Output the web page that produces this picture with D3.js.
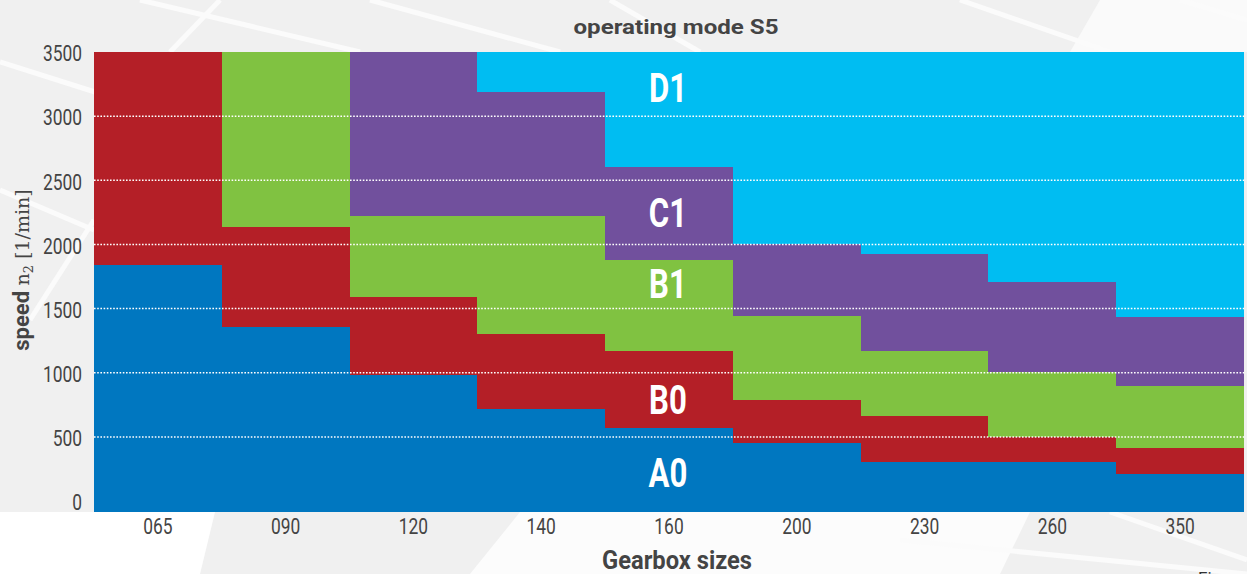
<!DOCTYPE html>
<html>
<head>
<meta charset="utf-8">
<script src="https://cdn.jsdelivr.net/npm/d3@7"></script>
<style>
  html, body { margin: 0; padding: 0; background: #fff; }
  svg { display: block; }
</style>
</head>
<body>
<svg id="chart" width="1247" height="574"></svg>
<script>
// gearbox sizes
var sizes = ["065", "090", "120", "140", "160", "200", "230", "260", "350"]

// upper limit of each zone per gearbox size, speed n2 in 1/min
var topA0 = [1840, 1357, 983, 718, 572, 455, 307, 307, 211]
var topB0 = [3500, 2136, 1591, 1302, 1170, 788, 663, 497, 414]
var topB1 = [3500, 3500, 2222, 2222, 1879, 1443, 1170, 1006, 897]
var topC1 = [3500, 3500, 3500, 3188, 2604, 2001, 1926, 1708, 1435]
var topD1 = [3500, 3500, 3500, 3500, 3500, 3500, 3500, 3500, 3500]

var zoneNames = ["A0", "B0", "B1", "C1", "D1"]
var zoneColors = ["#0077c0", "#b41f27", "#80c241", "#71509d", "#00bdf2"]
// where the zone names sit (speed value, in column "160")
var zoneLabelSpeed = [220, 796, 1700, 2253, 3223]

var yTicks = [0, 500, 1000, 1500, 2000, 2500, 3000, 3500]
var gridTicks = [500, 1000, 1500, 2000, 2500, 3000]

var svg = d3.select("#chart")
var W = 1247, H = 574
var plotLeft = 94, plotRight = 1244, plotTop = 52, plotBottom = 512

// soft background pattern
var bg = svg.append("g")
bg.append("rect").attr("width", W).attr("height", H).attr("fill", "#f0f0f0")
bg.append("polygon").attr("points", "1100,0 1247,0 1247,52 1070,52").attr("fill", "#fafafa")
bg.append("polygon").attr("points", "0,512 215,512 200,574 0,574").attr("fill", "#ffffff")
bg.append("polygon").attr("points", "520,512 1030,512 1000,574 470,574").attr("fill", "#fcfcfc")
var stripes = [[0, 62, 95, 92], [140, 0, 360, 52], [170, 52, 220, 0], [370, 0, 560, 52], [610, 0, 700, 52],
  [960, 0, 1110, 52], [1180, 0, 1247, 20], [0, 190, 94, 230], [30, 320, 94, 220], [900, 540, 1247, 574], [1110, 512, 1247, 560]]
bg.selectAll("line.stripe").data(stripes).enter().append("line")
  .attr("class", "stripe")
  .attr("x1", function (d) { return d[0] })
  .attr("y1", function (d) { return d[1] })
  .attr("x2", function (d) { return d[2] })
  .attr("y2", function (d) { return d[3] })
  .attr("stroke", "#fbfbfb")
  .attr("stroke-width", 5)

var x = d3.scaleBand().domain(sizes).range([plotLeft, plotRight]).padding(0)
var y = d3.scaleLinear().domain([-85, 3500]).range([plotBottom, plotTop])

var tops = [topA0, topB0, topB1, topC1, topD1]
var cells = []
tops.forEach(function (arr, z) {
  arr.forEach(function (v, i) {
    var lo = z == 0 ? y.domain()[0] : tops[z - 1][i]
    if (v > lo) cells.push({ size: sizes[i], lo: lo, hi: v, zone: z })
  })
})

svg.append("g").selectAll("rect").data(cells).enter().append("rect")
  .attr("x", function (d) { return x(d.size) })
  .attr("width", function (d) { return d.size == "350" ? x.bandwidth() : x.bandwidth() + 0.5 })
  .attr("y", function (d) { return y(d.hi) })
  .attr("height", function (d) { return y(d.lo) - y(d.hi) })
  .attr("fill", function (d) { return zoneColors[d.zone] })
  .attr("shape-rendering", "crispEdges")

// dotted grid
svg.append("g").selectAll("line").data(gridTicks).enter().append("line")
  .attr("x1", plotLeft).attr("x2", plotRight)
  .attr("y1", function (d) { return y(d) })
  .attr("y2", function (d) { return y(d) })
  .attr("stroke", "#ffffff")
  .attr("stroke-width", 1.5)
  .attr("stroke-dasharray", "1.6,1.6")

// zone names
var labelX = x("160") + x.bandwidth() / 2
svg.append("g").selectAll("text").data(zoneNames).enter().append("text")
  .attr("transform", function (d, i) { return "translate(" + (labelX - 1) + "," + y(zoneLabelSpeed[i]) + ") scale(0.76,1)" })
  .attr("text-anchor", "middle")
  .attr("dy", "0.355em")
  .attr("font-family", "Roboto")
  .attr("font-weight", "bold")
  .attr("font-size", 41)
  .attr("fill", "#ffffff")
  .text(function (d) { return d })

// axes
var yAxis = svg.append("g")
  .attr("transform", "translate(" + plotLeft + ",0)")
  .call(d3.axisLeft(y).tickValues(yTicks).tickSize(0).tickFormat(d3.format("d")))
yAxis.select(".domain").remove()
yAxis.selectAll("text")
  .attr("x", 0).attr("dy", "0.355em")
  .attr("transform", "translate(-12,1) scale(0.79,1)")
  .attr("font-family", "Roboto")
  .attr("font-size", 22)
  .attr("fill", "#444444")

var xAxis = svg.append("g")
  .attr("transform", "translate(0," + plotBottom + ")")
  .call(d3.axisBottom(x).tickSize(0))
xAxis.select(".domain").remove()
xAxis.selectAll("text")
  .attr("y", 0).attr("dy", "0.355em")
  .attr("transform", "translate(0,14.5) scale(0.79,1)")
  .attr("font-family", "Roboto")
  .attr("font-size", 22)
  .attr("fill", "#444444")
xAxis.selectAll(".tick").attr("transform", function (d) {
  return "translate(" + (x(d) + x.bandwidth() / 2) + ",0)"
})

// title
svg.append("text")
  .attr("x", 676).attr("y", 34)
  .attr("text-anchor", "middle")
  .attr("font-family", "Roboto")
  .attr("font-weight", "bold")
  .attr("font-size", 21)
  .attr("fill", "#444444")
  .attr("textLength", 205)
  .attr("lengthAdjust", "spacingAndGlyphs")
  .text("operating mode S5")

// x title
svg.append("text")
  .attr("x", 677).attr("y", 569)
  .attr("text-anchor", "middle")
  .attr("font-family", "Roboto")
  .attr("font-weight", "bold")
  .attr("font-size", 25)
  .attr("fill", "#444444")
  .attr("textLength", 150)
  .attr("lengthAdjust", "spacingAndGlyphs")
  .text("Gearbox sizes")

// y title
var yt = svg.append("text")
  .attr("transform", "translate(29,270) rotate(-90)")
  .attr("text-anchor", "middle")
  .attr("fill", "#444444")
yt.append("tspan")
  .attr("font-family", "Roboto")
  .attr("font-weight", "bold")
  .attr("font-size", 22)
  .text("speed ")
yt.append("tspan")
  .attr("font-family", "DejaVu Serif")
  .attr("font-size", 19)
  .text("n")
yt.append("tspan")
  .attr("font-family", "DejaVu Serif")
  .attr("font-size", 13)
  .attr("dy", 4)
  .text("2")
yt.append("tspan")
  .attr("font-family", "DejaVu Serif")
  .attr("font-size", 19)
  .attr("dy", -4)
  .text(" [1/min]")

// caption peeking in at the bottom edge
svg.append("text")
  .attr("x", 1198).attr("y", 584)
  .attr("font-family", "Roboto")
  .attr("font-size", 17)
  .attr("fill", "#333333")
  .text("Figure")
</script>
</body>
</html>
